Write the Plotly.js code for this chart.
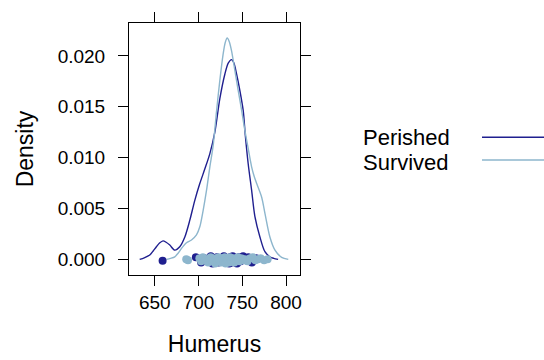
<!DOCTYPE html>
<html>
<head>
<meta charset="utf-8">
<script src="https://cdn.plot.ly/plotly-3.0.1.min.js"></script>
<style>html,body{margin:0;padding:0;background:#fff;}#chart{width:544px;height:360px;}</style>
</head>
<body>
<div id="chart"></div>
<script>
// Density curves
const perishedCurveX = [632.8, 638, 644.3, 648, 651.9, 655.5, 659.5, 663, 667.2, 672.9, 678.6, 684.4, 690.1, 695.8, 701.5, 707.3, 713, 718.7, 724.4, 730.1, 734, 737.8, 740.5, 743.5, 747.3, 751.1, 753.5, 756.8, 760.7, 764.5, 770.2, 775.9, 781.6, 786, 791];
const perishedCurveY = [0, 0.00015, 0.00042, 0.0008, 0.00124, 0.0016, 0.00182, 0.00168, 0.0014, 0.00091, 0.00124, 0.0022, 0.00385, 0.0058, 0.00745, 0.0089, 0.0104, 0.0125, 0.0158, 0.0182, 0.0193, 0.01964, 0.0193, 0.01824, 0.0166, 0.01464, 0.0122, 0.0094, 0.0068, 0.0042, 0.0022, 0.00075, 0.00025, 0.0001, 0];
const survivedCurveX = [663.4, 668, 672.9, 676.7, 680.6, 686.3, 692, 697.7, 701.5, 705.3, 709.2, 713, 716.8, 720.7, 724.4, 728.2, 730.5, 732.8, 735.2, 737.8, 741.6, 745.4, 749.3, 753, 756.8, 760.7, 763.5, 766.5, 772.2, 776, 781.6, 787.4, 795, 802.6];
const survivedCurveY = [0, 0.0001, 0.00025, 0.0006, 0.00108, 0.00163, 0.0019, 0.0024, 0.0032, 0.0048, 0.0068, 0.0091, 0.0112, 0.01464, 0.0176, 0.0202, 0.0213, 0.02176, 0.0214, 0.0205, 0.01856, 0.0166, 0.01464, 0.01268, 0.0109, 0.0091, 0.0082, 0.00745, 0.0061, 0.0045, 0.0022, 0.0009, 0.0002, 0];

// Jittered raw observations near zero
const perishedValues = [659, 697, 703, 707, 711, 714, 716, 719, 721, 723, 725, 727, 729, 731, 733, 735, 736, 738, 739, 740, 742, 744, 746, 748, 751, 754, 757, 761, 766];
const perishedJitter = [-0.00014, 0.0002, -0.0003, 0.0001, -0.0002, 0.0003, -0.0004, 0.0, 0.0002, -0.0003, 0.0001, -0.0001, 0.0003, -0.0002, 0.0, -0.0004, 0.0002, -0.0003, 0.0003, -0.0001, 0.0001, -0.0004, 0.0002, -0.0002, 0.0003, -0.0001, 0.0002, -0.0003, 0.0001];
const survivedValues = [686, 688, 701, 703, 705, 707, 709, 711, 713, 714, 716, 717, 719, 720, 722, 723, 724, 726, 727, 728, 729, 730, 731, 732, 733, 734, 735, 736, 737, 738, 740, 741, 743, 745, 747, 749, 751, 753, 756, 759, 762, 765, 768, 771, 775, 779];
const survivedJitter = [0.0, -0.0001, 0.0001, -0.0002, 0.0002, -0.0001, 0.0, -0.0003, 0.0001, 0.0002, -0.0002, 0.0, -0.0004, 0.0001, -0.0002, 0.0002, -0.0001, -0.0003, 0.0001, 0.0, -0.0002, 0.0002, -0.0004, 0.0001, -0.0001, 0.0, -0.0003, 0.0002, -0.0001, -0.0002, 0.0001, -0.0003, 0.0, 0.0002, -0.0002, 0.0001, -0.0001, 0.0, -0.0002, 0.0001, 0.0002, -0.0001, 0.0, 0.0001, -0.0001, 0.0];

const groupNames = ["Perished", "Survived"];
const xTicks = [650, 700, 750, 800];
const yTicks = [0, 0.005, 0.010, 0.015, 0.020];
const yTickText = ["0.000", "0.005", "0.010", "0.015", "0.020"];

const darkCol = "#1f1f8f";
const lightCol = "#8db6cd";
const FONT = "Liberation Sans, Arial, Helvetica, sans-serif";

const traces = [
  {x: perishedCurveX, y: perishedCurveY, mode: "lines", line: {color: darkCol, width: 1.4, shape: "spline", smoothing: 0.8}, showlegend: false, hoverinfo: "skip"},
  {x: survivedCurveX, y: survivedCurveY, mode: "lines", line: {color: lightCol, width: 1.4, shape: "spline", smoothing: 0.8}, showlegend: false, hoverinfo: "skip"},
  {x: perishedValues, y: perishedJitter, mode: "markers", marker: {color: darkCol, size: 8, symbol: "circle"}, showlegend: false},
  {x: survivedValues, y: survivedJitter, mode: "markers", marker: {color: lightCol, size: 8, symbol: "circle"}, showlegend: false}
];

// plot area in px: left 129.3, right 300, top 22.7, bottom 275
const L = 129, R = 300, T = 23, B = 275;
const px2paperX = p => (p - L) / (R - L);
const px2paperY = p => (B - p) / (B - T);

const layout = {
  width: 544, height: 360,
  margin: {l: L, r: 544 - R, t: T, b: 360 - B, pad: 0},
  paper_bgcolor: "#fff", plot_bgcolor: "#fff",
  font: {family: FONT, color: "#000"},
  showlegend: false,
  xaxis: {
    range: [620.6, 816], tickvals: xTicks, ticks: "outside", ticklen: 10, tickwidth: 1, tickcolor: "#000",
    showline: true, linecolor: "#000", linewidth: 1, mirror: "ticks", showgrid: false, zeroline: false,
    tickfont: {size: 19, family: FONT, color: "#000"}, ticklabelstandoff: 0,
    title: {text: "Humerus", font: {size: 23, family: FONT, color: "#000"}, standoff: 24}
  },
  yaxis: {
    range: [-0.00154, 0.02324], tickvals: yTicks, ticktext: yTickText, ticks: "outside", ticklen: 10, tickwidth: 1, tickcolor: "#000",
    showline: true, linecolor: "#000", linewidth: 1, mirror: "ticks", showgrid: false, zeroline: false,
    tickfont: {size: 19, family: FONT, color: "#000"}, ticklabelstandoff: 9,
    title: {text: "Density", font: {size: 23, family: FONT, color: "#000"}, standoff: 17}
  },
  annotations: [
    {text: groupNames[0], xref: "paper", yref: "paper", x: px2paperX(361), y: px2paperY(137), xanchor: "left", yanchor: "middle", showarrow: false, font: {size: 22, family: FONT, color: "#000"}},
    {text: groupNames[1], xref: "paper", yref: "paper", x: px2paperX(361), y: px2paperY(162), xanchor: "left", yanchor: "middle", showarrow: false, font: {size: 22, family: FONT, color: "#000"}}
  ],
  shapes: [
    {type: "line", xref: "paper", yref: "paper", x0: px2paperX(482), x1: px2paperX(544), y0: px2paperY(137.3), y1: px2paperY(137.3), line: {color: darkCol, width: 1.4}},
    {type: "line", xref: "paper", yref: "paper", x0: px2paperX(482), x1: px2paperX(544), y0: px2paperY(160), y1: px2paperY(160), line: {color: lightCol, width: 1.4}}
  ]
};

Plotly.newPlot("chart", traces, layout, {staticPlot: true, displayModeBar: false});
</script>
</body>
</html>
